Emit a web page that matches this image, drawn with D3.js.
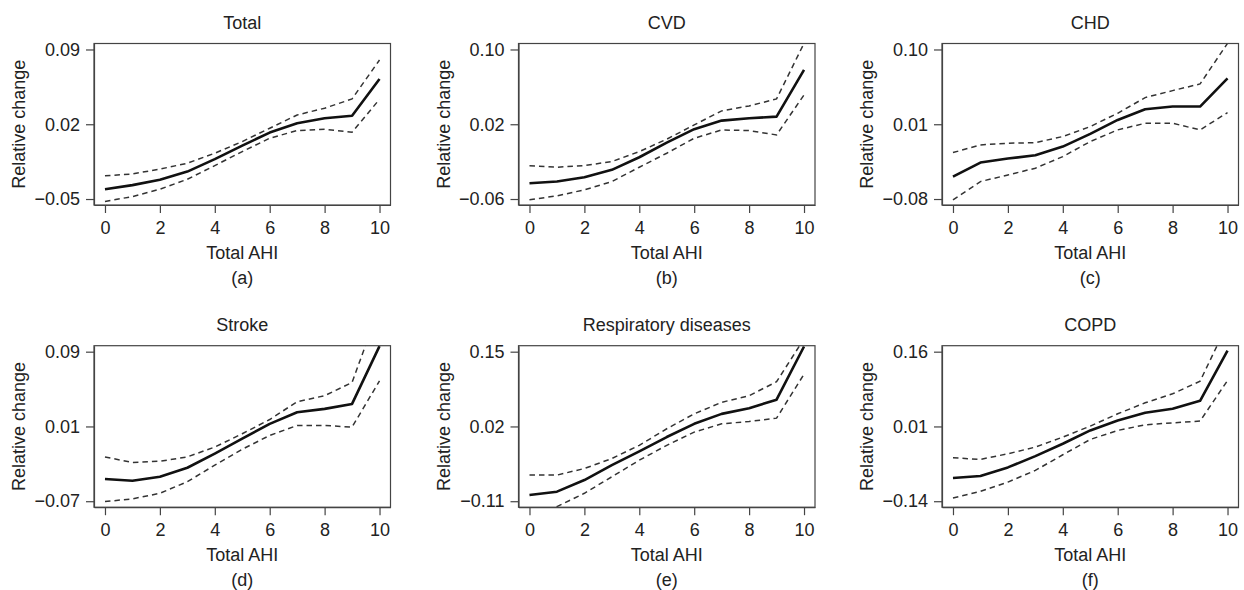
<!DOCTYPE html>
<html>
<head>
<meta charset="utf-8">
<script src="https://cdn.jsdelivr.net/npm/d3@7"></script>
<style>
  html, body { margin: 0; padding: 0; background: #fff; }
  svg text { font-family: "Liberation Sans", Arial, Helvetica, sans-serif; fill: #222; }
</style>
</head>
<body>
<svg id="chart" width="1244" height="590"></svg>
<script>
// ---- Data ----
const xValues = [0, 1, 2, 3, 4, 5, 6, 7, 8, 9, 10];
const xTicks = [0, 2, 4, 6, 8, 10];
const panelTitles = ["Total", "CVD", "CHD", "Stroke", "Respiratory diseases", "COPD"];
const panelLetters = ["(a)", "(b)", "(c)", "(d)", "(e)", "(f)"];
const yTicksTotal = [-0.05, 0.02, 0.09];
const yTicksCVD = [-0.06, 0.02, 0.10];
const yTicksCHD = [-0.08, 0.01, 0.10];
const yTicksStroke = [-0.07, 0.01, 0.09];
const yTicksResp = [-0.11, 0.02, 0.15];
const yTicksCOPD = [-0.14, 0.01, 0.16];

const totalFit   = [-0.0408, -0.0370, -0.0320, -0.0243, -0.0127, 0.0000, 0.0122, 0.0210, 0.0256, 0.0280, 0.0624];
const totalUpper = [-0.0283, -0.0265, -0.0220, -0.0165, -0.0071, 0.0038, 0.0163, 0.0287, 0.0350, 0.0437, 0.0802];
const totalLower = [-0.0523, -0.0477, -0.0408, -0.0315, -0.0187, -0.0056, 0.0069, 0.0141, 0.0153, 0.0125, 0.0434];

const cvdFit   = [-0.0431, -0.0413, -0.0367, -0.0288, -0.0153, 0.0004, 0.0147, 0.0239, 0.0264, 0.0282, 0.0781];
const cvdUpper = [-0.0245, -0.0260, -0.0242, -0.0199, -0.0092, 0.0040, 0.0193, 0.0343, 0.0396, 0.0471, 0.1066];
const cvdLower = [-0.0609, -0.0566, -0.0502, -0.0413, -0.0260, -0.0110, 0.0050, 0.0139, 0.0132, 0.0086, 0.0514];

const chdFit   = [-0.0530, -0.0361, -0.0313, -0.0273, -0.0169, -0.0016, 0.0152, 0.0280, 0.0313, 0.0313, 0.0653];
const chdUpper = [-0.0241, -0.0149, -0.0129, -0.0121, -0.0048, 0.0072, 0.0232, 0.0421, 0.0505, 0.0585, 0.1074];
const chdLower = [-0.0810, -0.0590, -0.0510, -0.0429, -0.0289, -0.0108, 0.0032, 0.0112, 0.0112, 0.0032, 0.0240];

const strokeFit   = [-0.0463, -0.0481, -0.0438, -0.0342, -0.0190, -0.0031, 0.0128, 0.0252, 0.0288, 0.0341, 0.0960];
const strokeUpper = [-0.0226, -0.0286, -0.0272, -0.0226, -0.0120, 0.0022, 0.0174, 0.0365, 0.0429, 0.0571, 0.1378];
const strokeLower = [-0.0704, -0.0675, -0.0615, -0.0491, -0.0314, -0.0144, 0.0004, 0.0111, 0.0111, 0.0093, 0.0588];

const respFit   = [-0.0991, -0.0934, -0.0732, -0.0473, -0.0232, 0.0016, 0.0246, 0.0419, 0.0516, 0.0666, 0.1590];
const respUpper = [-0.0646, -0.0646, -0.0531, -0.0358, -0.0128, 0.0160, 0.0419, 0.0620, 0.0735, 0.0977, 0.1725];
const respLower = [-0.1350, -0.1193, -0.0962, -0.0675, -0.0387, -0.0128, 0.0102, 0.0246, 0.0286, 0.0344, 0.1109];

const copdFit   = [-0.0935, -0.0895, -0.0722, -0.0495, -0.0247, 0.0020, 0.0220, 0.0374, 0.0454, 0.0614, 0.1623];
const copdUpper = [-0.0528, -0.0561, -0.0448, -0.0314, -0.0114, 0.0107, 0.0354, 0.0574, 0.0755, 0.1008, 0.2157];
const copdLower = [-0.1336, -0.1203, -0.1016, -0.0782, -0.0468, -0.0161, 0.0020, 0.0133, 0.0173, 0.0207, 0.1022];

const panels = [
  { title: panelTitles[0], letter: panelLetters[0], yTicks: yTicksTotal,  fit: totalFit,  upper: totalUpper,  lower: totalLower },
  { title: panelTitles[1], letter: panelLetters[1], yTicks: yTicksCVD,    fit: cvdFit,    upper: cvdUpper,    lower: cvdLower },
  { title: panelTitles[2], letter: panelLetters[2], yTicks: yTicksCHD,    fit: chdFit,    upper: chdUpper,    lower: chdLower },
  { title: panelTitles[3], letter: panelLetters[3], yTicks: yTicksStroke, fit: strokeFit, upper: strokeUpper, lower: strokeLower },
  { title: panelTitles[4], letter: panelLetters[4], yTicks: yTicksResp,   fit: respFit,   upper: respUpper,   lower: respLower },
  { title: panelTitles[5], letter: panelLetters[5], yTicks: yTicksCOPD,   fit: copdFit,   upper: copdUpper,   lower: copdLower }
];

// ---- Layout ----
const colLeft = [94, 518.5, 942];
const rowTop = [43.5, 345.7];
const boxW = 296.5, boxH = 161.5;
const FS = 18;

const svg = d3.select("#chart");

panels.forEach((p, i) => {
  const col = i % 3, row = Math.floor(i / 3);
  const g = svg.append("g").attr("transform", `translate(${colLeft[col]},${rowTop[row]})`);

  const xPad = 0.04 * 10;
  const x = d3.scaleLinear().domain([0 - xPad, 10 + xPad]).range([0, boxW]);
  const yMin = p.yTicks[0], yMax = p.yTicks[p.yTicks.length - 1];
  const yPad = 0.04 * (yMax - yMin);
  const y = d3.scaleLinear().domain([yMin - yPad, yMax + yPad]).range([boxH, 0]);

  const clipId = "clip" + i;
  g.append("clipPath").attr("id", clipId)
    .append("rect").attr("x", 0).attr("y", 0).attr("width", boxW).attr("height", boxH);

  const plot = g.append("g").attr("clip-path", `url(#${clipId})`);
  const line = d3.line().x((d, k) => x(xValues[k])).y(d => y(d));

  plot.append("path").datum(p.upper).attr("d", line)
    .attr("fill", "none").attr("stroke", "#333").attr("stroke-width", 1.5).attr("stroke-dasharray", "5.5,4");
  plot.append("path").datum(p.lower).attr("d", line)
    .attr("fill", "none").attr("stroke", "#333").attr("stroke-width", 1.5).attr("stroke-dasharray", "5.5,4");
  plot.append("path").datum(p.fit).attr("d", line)
    .attr("fill", "none").attr("stroke", "#111").attr("stroke-width", 2.6).attr("stroke-linejoin", "round");

  // box
  g.append("rect").attr("x", 0).attr("y", 0).attr("width", boxW).attr("height", boxH)
    .attr("fill", "none").attr("stroke", "#444").attr("stroke-width", 1.2);

  // x axis
  const xAxis = d3.axisBottom(x).tickValues(xTicks).tickSize(8).tickPadding(7).tickSizeOuter(0);
  const xa = g.append("g").attr("transform", `translate(0,${boxH})`).call(xAxis);
  xa.select(".domain").attr("stroke", "#444").attr("stroke-width", 1.2);
  xa.selectAll(".tick line").attr("stroke", "#444").attr("stroke-width", 1.2);
  xa.selectAll(".tick text").attr("font-size", FS).attr("fill", "#222")
    .attr("font-family", "Liberation Sans, Arial, sans-serif").attr("dy", "0.75em");

  // y axis
  const yAxis = d3.axisLeft(y).tickValues(p.yTicks).tickSize(8).tickPadding(6).tickSizeOuter(0)
    .tickFormat(d => d3.format(".2f")(d).replace("-", "\u2212"));
  const ya = g.append("g").call(yAxis);
  ya.select(".domain").attr("stroke", "#444").attr("stroke-width", 1.2);
  ya.selectAll(".tick line").attr("stroke", "#444").attr("stroke-width", 1.2);
  ya.selectAll(".tick text").attr("font-size", FS).attr("fill", "#222")
    .attr("font-family", "Liberation Sans, Arial, sans-serif");

  // titles
  g.append("text").attr("x", boxW / 2).attr("y", -15).attr("text-anchor", "middle")
    .attr("font-size", FS).text(p.title);
  g.append("text").attr("x", boxW / 2).attr("y", boxH + 54).attr("text-anchor", "middle")
    .attr("font-size", FS).text("Total AHI");
  g.append("text").attr("x", boxW / 2).attr("y", boxH + 79).attr("text-anchor", "middle")
    .attr("font-size", FS).text(p.letter);
  g.append("text").attr("transform", `translate(-69,${boxH / 2}) rotate(-90)`)
    .attr("text-anchor", "middle").attr("font-size", FS).text("Relative change");
});
</script>
</body>
</html>
